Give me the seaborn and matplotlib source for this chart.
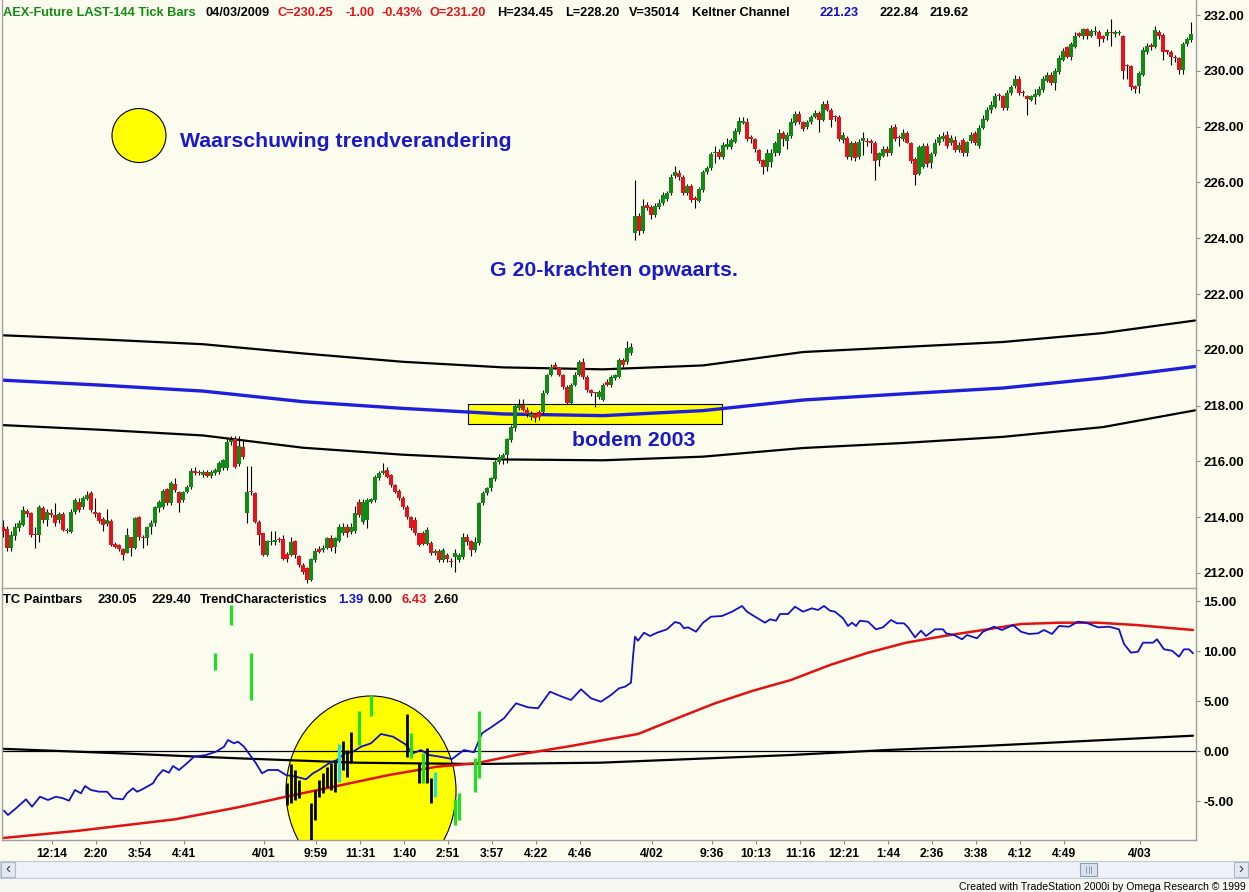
import matplotlib
matplotlib.use("Agg")
import matplotlib.pyplot as plt
import seaborn as sns
import numpy as np
import pandas as pd
from matplotlib.patches import Ellipse, Rectangle

# ------------------------------------------------------------------ data
bar_open = [
    213.66, 213.56, 212.88, 213.33, 213.60, 213.72, 214.24, 214.14, 213.38, 213.36,
    214.32, 213.90, 214.16, 214.08, 213.90, 214.12, 213.52, 213.48, 214.18, 214.56,
    214.38, 214.65, 214.88, 214.15, 214.16, 213.92, 213.75, 213.86, 213.03, 212.99,
    212.85, 212.73, 213.28, 212.91, 214.02, 213.30, 213.24, 213.64, 213.78, 214.32,
    214.38, 215.01, 214.50, 215.18, 214.90, 214.62, 214.90, 215.07, 215.67, 215.60,
    215.51, 215.63, 215.49, 215.57, 215.63, 215.75, 215.75, 216.68, 216.80, 215.90,
    216.53, 214.14, 214.92, 214.88, 213.84, 213.42, 212.65, 213.10, 213.10, 213.19,
    213.22, 212.67, 212.65, 213.16, 212.61, 212.29, 212.17, 211.75, 212.47, 212.87,
    212.82, 212.91, 213.24, 212.94, 213.15, 213.42, 213.66, 213.48, 213.52, 214.56,
    213.82, 213.90, 214.56, 214.62, 215.40, 215.60, 215.69, 215.51, 215.15, 214.95,
    214.68, 214.38, 214.02, 213.90, 213.42, 213.42, 213.05, 213.08, 212.71, 212.80,
    212.47, 212.65, 212.40, 212.59, 212.47, 212.59, 213.28, 213.14, 212.82, 213.08,
    214.50, 214.86, 215.03, 215.36, 215.99, 216.07, 216.23, 216.77, 217.18, 217.90,
    218.02, 217.86, 217.60, 217.69, 217.76, 217.78, 218.46, 219.10, 219.44, 219.34,
    219.10, 218.68, 218.08, 218.74, 219.10, 219.58, 219.04, 218.56, 218.47, 218.32,
    218.20, 218.84, 218.74, 218.98, 219.04, 219.63, 219.57, 219.87,
    224.17, 224.79, 224.26, 225.19, 225.13, 224.83, 225.13, 225.27, 225.42, 225.63,
    226.24, 226.35, 226.20, 225.63, 225.88, 225.45, 225.34, 225.72, 226.36, 226.50,
    227.04, 227.10, 226.92, 227.28, 227.28, 227.46, 227.82, 228.14, 228.17, 227.62,
    227.54, 227.16, 226.80, 226.56, 226.74, 227.04, 227.04, 227.78, 227.50, 227.66,
    228.12, 228.46, 228.16, 228.00, 228.16, 228.34, 228.48, 228.24, 228.80, 228.60,
    228.35, 228.36, 227.52, 227.58, 226.90, 227.43, 226.92, 227.47, 227.47, 227.44,
    227.43, 226.80, 226.95, 227.21, 227.04, 228.00, 227.59, 227.54, 227.78, 227.40,
    226.83, 226.30, 226.56, 227.31, 226.68, 227.02, 227.43, 227.54, 227.70, 227.43,
    227.52, 227.16, 227.52, 227.07, 227.49, 227.76, 227.30, 227.94, 228.24, 228.60,
    228.70, 229.11, 229.10, 228.65, 229.20, 229.46, 229.70, 229.21, 229.10, 228.96,
    229.05, 229.14, 229.32, 229.65, 229.84, 229.56, 229.95, 230.40, 230.85, 230.49,
    230.85, 231.35, 231.23, 231.50, 231.23, 231.38, 231.38, 231.26, 231.23, 231.35,
    231.33, 231.35, 231.23, 230.19, 230.18, 229.46, 229.44, 229.86, 230.69, 230.88,
    230.85, 231.40, 231.28, 230.70, 230.68, 230.51, 230.45, 230.04, 230.95, 231.11,
]
bar_high = [
    213.90, 213.70, 213.50, 213.80, 213.90, 214.40, 214.30, 214.20, 213.66, 214.45,
    214.40, 214.30, 214.30, 214.50, 214.20, 214.20, 213.60, 214.30, 214.70, 214.70,
    214.75, 214.95, 214.95, 214.68, 214.20, 214.00, 214.30, 213.95, 213.10, 213.05,
    212.90, 213.60, 213.30, 214.00, 214.05, 213.35, 213.70, 213.90, 214.40, 214.60,
    215.00, 215.05, 215.30, 215.40, 214.95, 214.95, 215.15, 215.75, 215.80, 215.70,
    215.70, 215.70, 215.70, 215.75, 216.00, 216.10, 216.85, 216.90, 216.90, 216.90,
    216.75, 215.85, 215.85, 214.92, 213.90, 213.45, 213.20, 213.50, 213.50, 213.30,
    213.35, 212.75, 213.30, 213.20, 212.65, 212.35, 212.20, 212.55, 212.90, 212.95,
    213.00, 213.30, 213.35, 213.30, 213.75, 213.80, 213.75, 213.80, 214.40, 214.65,
    214.65, 214.70, 214.70, 215.50, 215.65, 215.93, 215.80, 215.55, 215.20, 215.00,
    214.75, 214.45, 214.05, 214.00, 213.45, 213.50, 213.65, 213.15, 212.85, 212.85,
    212.90, 212.70, 212.55, 212.85, 212.70, 213.45, 213.40, 213.20, 213.30, 214.55,
    214.95, 215.10, 215.45, 216.05, 216.25, 216.30, 216.85, 217.30, 218.05, 218.25,
    218.25, 217.95, 217.80, 217.75, 217.85, 218.55, 219.15, 219.50, 219.55, 219.40,
    219.15, 218.75, 218.80, 219.20, 219.65, 219.70, 219.10, 218.60, 218.50, 218.55,
    218.80, 218.95, 219.10, 219.15, 219.70, 219.70, 220.30, 220.25,
    226.10, 224.90, 225.40, 225.30, 225.20, 225.25, 225.40, 225.65, 225.70, 226.30,
    226.60, 226.45, 226.25, 225.95, 225.95, 225.50, 225.85, 226.45, 226.60, 227.10,
    227.30, 227.20, 227.45, 227.60, 227.60, 227.95, 228.35, 228.35, 228.30, 227.70,
    227.60, 227.20, 226.85, 227.20, 227.20, 227.50, 227.90, 227.85, 227.80, 228.30,
    228.55, 228.55, 228.20, 228.25, 228.40, 228.60, 228.55, 228.90, 228.95, 228.65,
    228.40, 228.40, 227.80, 227.65, 227.50, 227.50, 227.55, 227.80, 227.60, 227.55,
    227.50, 227.10, 227.30, 227.30, 228.05, 228.10, 227.70, 227.90, 227.85, 227.45,
    226.90, 227.35, 227.40, 227.40, 227.10, 227.55, 227.75, 227.80, 227.85, 227.70,
    227.65, 227.45, 227.60, 227.50, 227.80, 227.85, 228.05, 228.40, 228.70, 228.90,
    229.20, 229.20, 229.15, 229.30, 229.50, 229.85, 229.80, 229.30, 229.15, 229.15,
    229.35, 229.45, 229.80, 229.95, 229.95, 230.10, 230.55, 230.80, 230.90, 231.05,
    231.40, 231.40, 231.55, 231.55, 231.50, 231.60, 231.45, 231.30, 231.50, 231.86,
    231.45, 231.45, 231.30, 230.25, 230.20, 229.50, 230.00, 230.85, 231.00, 231.00,
    231.60, 231.45, 231.35, 230.75, 230.75, 230.55, 230.50, 231.05, 231.20, 231.75,
]
bar_low = [
    213.30, 212.80, 212.80, 213.20, 213.50, 213.70, 214.00, 213.30, 212.88, 213.10,
    213.80, 213.70, 214.00, 213.70, 213.80, 213.50, 213.45, 213.45, 214.10, 214.20,
    214.30, 214.60, 214.20, 214.02, 213.80, 213.50, 213.70, 212.95, 212.90, 212.80,
    212.45, 212.70, 212.60, 212.85, 213.20, 212.90, 213.00, 213.40, 213.70, 214.20,
    214.30, 214.45, 214.45, 214.90, 214.20, 214.55, 214.85, 215.00, 215.50, 215.50,
    215.45, 215.45, 215.40, 215.50, 215.55, 215.70, 215.70, 216.60, 215.75, 215.85,
    216.10, 213.78, 214.80, 213.80, 213.00, 212.60, 212.60, 213.00, 213.00, 213.10,
    212.45, 212.40, 212.60, 212.55, 212.20, 211.95, 211.65, 211.70, 212.40, 212.70,
    212.75, 212.85, 212.80, 212.70, 213.10, 213.35, 213.30, 213.40, 213.45, 214.00,
    213.75, 213.60, 214.50, 214.55, 215.35, 215.55, 215.40, 215.10, 214.85, 214.60,
    214.30, 213.95, 213.55, 213.35, 212.95, 213.00, 213.00, 212.65, 212.65, 212.40,
    212.40, 212.40, 212.20, 212.02, 212.40, 212.50, 213.00, 212.60, 212.75, 213.00,
    214.45, 214.80, 214.95, 215.30, 215.90, 215.90, 215.95, 216.70, 217.10, 217.85,
    217.80, 217.60, 217.50, 217.40, 217.50, 217.70, 218.40, 219.05, 219.30, 219.05,
    218.60, 218.05, 218.05, 218.70, 219.05, 218.95, 218.50, 218.35, 217.96, 218.25,
    218.15, 218.70, 218.65, 218.90, 219.00, 219.40, 219.50, 219.80,
    223.93, 224.10, 224.20, 225.00, 224.70, 224.75, 225.05, 225.20, 225.35, 225.55,
    226.15, 226.10, 225.55, 225.55, 225.30, 225.10, 225.30, 225.65, 226.30, 226.45,
    226.70, 226.85, 226.85, 227.20, 227.20, 227.40, 227.75, 228.10, 227.50, 227.40,
    227.10, 226.70, 226.30, 226.40, 226.55, 226.95, 227.00, 227.30, 227.20, 227.60,
    228.05, 228.10, 227.85, 227.90, 228.10, 228.30, 227.80, 228.20, 228.55, 228.00,
    228.20, 227.50, 227.40, 226.85, 226.80, 226.75, 226.85, 227.00, 227.30, 227.05,
    226.10, 226.60, 226.90, 226.95, 227.00, 227.50, 227.30, 227.50, 227.40, 226.70,
    225.90, 226.25, 226.50, 226.55, 226.50, 226.95, 227.35, 227.50, 227.25, 227.35,
    227.10, 227.10, 226.95, 226.95, 227.40, 227.35, 227.25, 227.90, 228.20, 228.50,
    228.65, 228.95, 228.60, 228.60, 229.15, 229.40, 229.15, 229.10, 228.40, 228.90,
    228.80, 229.10, 229.25, 229.60, 229.50, 229.30, 229.90, 230.35, 230.45, 230.40,
    230.80, 231.20, 231.15, 231.15, 231.20, 231.30, 230.90, 231.05, 231.10, 230.90,
    231.20, 231.30, 229.70, 229.70, 229.30, 229.20, 229.20, 229.80, 230.60, 230.75,
    230.80, 231.15, 230.40, 230.60, 230.20, 230.30, 229.90, 229.90, 230.90, 231.05,
]
bar_close = [
    213.52, 212.90, 213.36, 213.66, 213.80, 214.26, 214.12, 213.36, 213.36, 214.35,
    213.90, 214.20, 214.08, 213.78, 214.12, 213.54, 213.50, 214.20, 214.62, 214.26,
    214.68, 214.80, 214.26, 214.13, 213.86, 213.72, 213.90, 213.00, 212.94, 212.85,
    212.65, 213.36, 212.91, 213.96, 213.30, 213.24, 213.66, 213.80, 214.35, 214.56,
    214.95, 214.50, 215.24, 214.97, 214.50, 214.90, 215.07, 215.67, 215.57, 215.58,
    215.63, 215.49, 215.63, 215.69, 215.93, 216.05, 216.71, 216.77, 215.81, 216.55,
    216.17, 214.89, 214.90, 213.84, 213.36, 212.65, 213.14, 213.16, 213.18, 213.18,
    212.49, 212.49, 213.12, 212.63, 212.29, 212.02, 211.75, 212.49, 212.80, 212.76,
    212.91, 213.24, 212.88, 213.24, 213.66, 213.66, 213.42, 213.66, 214.16, 214.08,
    214.56, 214.62, 214.65, 215.43, 215.60, 215.67, 215.45, 215.15, 214.91, 214.68,
    214.38, 214.02, 213.60, 213.42, 213.00, 213.05, 213.54, 212.71, 212.80, 212.47,
    212.82, 212.49, 212.38, 212.73, 212.63, 213.30, 213.12, 212.82, 213.12, 214.50,
    214.88, 215.03, 215.39, 215.99, 216.17, 216.23, 216.80, 217.24, 217.99, 218.02,
    217.84, 217.69, 217.69, 217.54, 217.60, 218.46, 219.10, 219.40, 219.34, 219.10,
    218.68, 218.08, 218.74, 219.10, 219.58, 219.04, 218.56, 218.44, 218.46, 218.50,
    218.74, 218.74, 219.04, 219.10, 219.63, 219.45, 220.05, 220.11,
    224.79, 224.26, 225.15, 225.09, 224.83, 225.15, 225.27, 225.55, 225.63, 226.20,
    226.38, 226.18, 225.63, 225.87, 225.37, 225.37, 225.75, 226.38, 226.53, 227.02,
    227.09, 226.92, 227.34, 227.37, 227.52, 227.84, 228.20, 228.20, 227.57, 227.54,
    227.19, 226.78, 226.54, 227.04, 227.07, 227.40, 227.76, 227.54, 227.69, 228.18,
    228.46, 228.18, 227.93, 228.18, 228.34, 228.50, 228.24, 228.80, 228.60, 228.24,
    228.33, 227.56, 227.69, 226.92, 227.43, 226.86, 227.45, 227.59, 227.46, 227.43,
    226.78, 227.04, 227.19, 227.07, 227.94, 227.54, 227.58, 227.76, 227.42, 226.78,
    226.25, 227.26, 227.31, 226.66, 227.02, 227.43, 227.62, 227.66, 227.31, 227.59,
    227.16, 227.34, 227.07, 227.44, 227.70, 227.42, 227.94, 228.29, 228.60, 228.78,
    229.10, 229.10, 228.66, 229.20, 229.41, 229.70, 229.22, 229.20, 228.98, 229.08,
    229.17, 229.34, 229.70, 229.84, 229.56, 230.01, 230.46, 230.72, 230.49, 230.95,
    231.26, 231.23, 231.50, 231.23, 231.41, 231.44, 231.14, 231.14, 231.40, 231.34,
    231.38, 231.39, 229.98, 230.17, 229.41, 229.34, 229.92, 230.73, 230.90, 230.87,
    231.47, 231.23, 230.69, 230.69, 230.49, 230.45, 230.04, 230.97, 231.14, 231.33,
]

# Keltner channel (bar index, value)
kc_idx = [0, 25, 50, 75, 100, 125, 150, 175, 200, 225, 250, 275, 298]
kc_mid = [218.91, 218.73, 218.52, 218.14, 217.90, 217.70, 217.64, 217.82, 218.20, 218.42, 218.63, 218.99, 219.40]
kc_upper = [220.52, 220.37, 220.20, 219.87, 219.57, 219.37, 219.30, 219.44, 219.92, 220.10, 220.28, 220.60, 221.05]
kc_lower = [217.30, 217.13, 216.93, 216.49, 216.24, 216.07, 216.04, 216.17, 216.48, 216.66, 216.88, 217.23, 217.83]

# TrendCharacteristics (blue)
tc_x = [0.25, 1.25, 3.25, 5.75, 7.25, 9.25, 11.25, 13.25, 15, 16.5, 18, 19.5, 20.5, 22, 24, 26, 27.5, 30, 31,
        32.5, 33.5, 34.5, 36, 37.5, 38.5, 40, 41.5, 42.5, 44, 46, 47.75, 50.75, 53.25, 55.25, 56.25, 57.75,
        58.75, 60.25, 61.75, 63.25, 64.75, 66.25, 68.75, 70.75, 73.25, 75.75, 77.5, 79, 81.5, 83.5, 85.5,
        87.5, 89.5, 92, 94.5, 97.5, 100.5, 102.5, 104.5, 106.5, 109.25, 112.25, 115.25, 117.75, 119.75,
        122.25, 125.25, 128.25, 131.25, 133.75, 136.75, 139.75, 142, 144.5, 147, 149.5, 152, 154, 155.5,
        157, 157.5, 158, 158.75, 160.25, 161.75, 163.5, 166, 168, 169.25, 170.25, 171.25, 173.25, 175, 177,
        179.75, 182.25, 184.75, 186, 188, 190.5, 191.75, 193.25, 194.25, 196.25, 198, 200, 202.25, 203.75,
        205.25, 206.75, 208, 210, 211.25, 212.25, 213.25, 214.25, 216.25, 218.25, 220, 222, 223.5, 225.25,
        226.25, 228, 229.5, 230.75, 233, 235, 235.75, 237.75, 239.75, 241, 243.5, 245, 247.75, 249.75,
        252.5, 254.5, 256.5, 258.75, 260.25, 262.25, 264, 266.5, 268.75, 270.75, 273.75, 276.5, 279,
        280.25, 282, 283.75, 285, 287.5, 288.5, 290.25, 292.25, 294, 295.25, 296.5, 297.5]
tc_v = [-5.97, -6.4, -5.73, -4.83, -5.57, -4.57, -4.9, -4.57, -4.73, -4.97, -3.9, -4.23, -3.5, -3.9, -4.07,
        -4.07, -4.73, -4.83, -4.23, -3.73, -4.07, -3.9, -3.57, -3.23, -2.57, -1.9, -2.17, -1.5, -1.9, -1.23,
        -0.57, -0.4, -0.07, 0.43, 1.1, 0.77, 0.93, 0.43, -0.4, -1.23, -2.23, -1.9, -1.9, -2.4, -2.57, -2.83,
        -2.23, -1.9, -1.23, -0.9, -0.23, -0.07, 0.43, 0.77, 1.7, 1.43, 0.7, -0.23, 0.1, -0.4, -0.57, -0.8,
        0.1, -0.13, 1.77, 2.43, 3.27, 4.77, 4.37, 4.27, 5.93, 5.43, 5.1, 6.17, 5.27, 4.93, 5.6, 6.27, 6.43,
        6.83, 9.43, 11.43, 11.03, 11.83, 11.5, 11.83, 12.17, 12.9, 12.77, 12.27, 12.37, 11.93, 12.83, 13.43,
        13.5, 13.93, 14.5, 13.93, 13.43, 12.83, 13.17, 13.03, 13.7, 13.7, 14.43, 13.93, 14.27, 14.1, 14.5,
        14.03, 13.93, 13.27, 12.5, 12.83, 12.5, 13.03, 12.93, 12.17, 12.37, 13.1, 12.77, 12.77, 12.37,
        11.37, 12.03, 11.5, 12.17, 12.17, 11.77, 11.6, 11.17, 11.6, 11.27, 11.93, 12.43, 12.1, 12.6, 11.93,
        11.7, 11.77, 12.1, 11.7, 12.5, 12.43, 12.93, 12.83, 12.37, 12.43, 12.17, 10.7, 9.83, 9.93, 10.83,
        10.83, 11.17, 10.17, 10.03, 9.43, 10.17, 10.17, 9.77]

# smooth red line
red_x = [-0.75, 19, 43, 58.75, 70.75, 83.5, 96.5, 108.5, 118.25, 128.25, 142, 149.25, 158.75, 168.5, 178,
         187.5, 197, 206.75, 216.25, 225.75, 235.25, 245, 254.5, 264, 273.75, 283.25, 297.5]
red_v = [-8.73, -7.97, -6.83, -5.63, -4.57, -3.5, -2.4, -1.57, -1.23, -0.4, 0.5, 1.03, 1.7, 3.27, 4.77,
         6.03, 7.1, 8.6, 9.83, 10.83, 11.5, 12.1, 12.7, 12.83, 12.83, 12.6, 12.1]

# slow black line
slow_x = [-0.75, 29, 58.75, 88.5, 118.25, 149.25, 197, 221, 245, 297.5]
slow_v = [0.23, -0.23, -0.73, -1.17, -1.3, -1.17, -0.4, 0.1, 0.5, 1.53]

# TC paintbars
green_pb_idx = [53, 57, 62, 89, 92, 102, 105, 113, 114, 118, 119]
green_pb_hi = [9.83, 14.6, 9.83, 4.03, 5.6, 1.77, -0.23, -4.83, -4.17, -0.73, 4.03]
green_pb_lo = [8.1, 12.6, 5.1, 0.6, 3.5, -0.73, -3.23, -7.4, -6.9, -4.07, -2.73]
cyan_pb_idx = [84, 108]
cyan_pb_hi = [0.7, -2.07]
cyan_pb_lo = [-3.07, -4.57]
black_pb_idx = [71, 72, 73, 74, 77, 78, 79, 80, 81, 82, 83, 85, 86, 87, 101, 104, 106, 107]
black_pb_hi = [-3.23, -1.3, -1.9, -2.9, -5.23, -3.9, -2.9, -2.17, -1.57, -1.23, -0.9, 1.03, 0.1, 1.93,
               3.7, -1.23, 0.27, -2.73]
black_pb_lo = [-5.4, -5.23, -4.9, -4.73, -8.9, -6.9, -4.57, -4.17, -3.57, -3.9, -4.07, -1.9, -2.57,
               -1.23, -0.57, -3.23, -3.17, -5.23]

# time axis
time_tick_bars = [8, 19, 30, 41, 61, 74, 85, 96, 107, 118, 129, 140, 158, 173, 184, 195, 206, 217, 228,
                  239, 250, 261, 280]
time_tick_labels = ["12:14", "2:20", "3:54", "4:41", "4/01", "9:59", "11:31", "1:40", "2:51", "3:57",
                    "4:22", "4:46", "4/02", "9:36", "10:13", "11:16", "12:21", "1:44", "2:36", "3:38",
                    "4:12", "4:49", "4/03"]
price_ticks = [212, 214, 216, 218, 220, 222, 224, 226, 228, 230, 232]
tc_ticks = [-5, 0, 5, 10, 15]

header_top_texts = ["AEX-Future LAST-144 Tick Bars", "04/03/2009", "C=230.25", "-1.00", "-0.43%",
                    "O=231.20", "H=234.45", "L=228.20", "V=35014", "Keltner Channel", "221.23",
                    "222.84", "219.62"]
header_bot_texts = ["TC Paintbars", "230.05", "229.40", "TrendCharacteristics", "1.39", "0.00",
                    "6.43", "2.60"]
annotations = ["Waarschuwing trendverandering", "G 20-krachten opwaarts.", "bodem 2003"]

# ------------------------------------------------------------------ style
sns.set_theme(style="white")
plt.rcParams['font.family'] = ['Liberation Sans', 'DejaVu Sans']

W, H = 1249, 892
BG = '#FCFCEE'
GREEN = '#138A13'
RED = '#E5141C'
KBLUE = '#1E1EDC'
TBLUE = '#1212C4'
AXC = '#A0A0A0'


def fx(x):
    return x / W


def fy(y):
    return 1 - y / H


fig = plt.figure(figsize=(W / 100, H / 100), dpi=100, facecolor=BG)
ax1 = fig.add_axes([fx(2), fy(587), fx(1196) - fx(2), fy(0) - fy(587)])
ax2 = fig.add_axes([fx(2), fy(840), fx(1196) - fx(2), fy(588) - fy(840)])

for ax in (ax1, ax2):
    ax.set_facecolor(BG)
    ax.set_xlim(-0.25, 298.25)
    for s in ax.spines.values():
        s.set_color(AXC)
        s.set_linewidth(1.0)
    ax.yaxis.tick_right()
    ax.tick_params(axis='y', direction='out', length=3, width=0.8, color='#8C8C8C',
                   pad=2.2, labelsize=9.5, labelcolor='black', right=True, left=False)
    ax.grid(False)
ax1.spines['top'].set_visible(False)
ax1.spines['bottom'].set_visible(False)
ax1.patch.set_visible(False)

ax1.set_ylim(211.498, 232.538)
ax2.set_ylim(-8.9, 16.3)
ax1.set_yticks(price_ticks)
ax1.set_yticklabels([f"{v:.2f}" for v in price_ticks])
ax2.set_yticks(tc_ticks)
ax2.set_yticklabels([f"{v:.2f}" for v in tc_ticks])
ax1.set_xticks([])

# ------------------------------------------------------------------ upper panel
o = np.array(bar_open)
h = np.array(bar_high)
l = np.array(bar_low)
c = np.array(bar_close)
idx = np.arange(len(c))
cols = np.where(c >= o, GREEN, RED)

ax1.add_patch(Rectangle((116.2, 217.33), 63.6, 0.717, facecolor='#FFFF00', edgecolor='black',
                        linewidth=0.8, zorder=1.5))
ax1.add_patch(Ellipse((34, 227.68), 13.5, 1.935, facecolor='#FFFF00', edgecolor='black',
                      linewidth=0.8, zorder=1.5))

kc = pd.DataFrame({'bar': kc_idx, 'mid': kc_mid, 'up': kc_upper, 'lo': kc_lower})
sns.lineplot(data=kc, x='bar', y='up', ax=ax1, color='black', linewidth=1.6, estimator=None,
             sort=False, zorder=2)
sns.lineplot(data=kc, x='bar', y='lo', ax=ax1, color='black', linewidth=1.6, estimator=None,
             sort=False, zorder=2)
sns.lineplot(data=kc, x='bar', y='mid', ax=ax1, color=KBLUE, linewidth=2.4, estimator=None,
             sort=False, zorder=2)

ax1.vlines(idx, l, h, color='black', linewidth=0.8, zorder=3)
body_b = np.minimum(o, c)
body_h = np.maximum(np.abs(c - o), 0.04)
ax1.bar(idx, body_h, bottom=body_b, width=0.8, color=cols, linewidth=0, zorder=4)

ax1.set_xlabel('')
ax1.set_ylabel('')

# ------------------------------------------------------------------ lower panel
ax2.add_patch(Ellipse((92, -4.0), 42.5, 19.0, facecolor='#FFFF00', edgecolor='black',
                      linewidth=0.8, zorder=1))
ax2.axhline(0, color='black', linewidth=0.9, zorder=2)
sns.lineplot(x=slow_x, y=slow_v, ax=ax2, color='black', linewidth=1.6, estimator=None,
             sort=False, zorder=2.2)
sns.lineplot(x=red_x, y=red_v, ax=ax2, color='#E01212', linewidth=1.8, estimator=None,
             sort=False, zorder=2.4)
sns.lineplot(x=tc_x, y=tc_v, ax=ax2, color=TBLUE, linewidth=1.3, estimator=None,
             sort=False, zorder=2.6)
ax2.vlines(green_pb_idx, green_pb_lo, green_pb_hi, color='#22DD22', linewidth=2.3, zorder=3)
ax2.vlines(cyan_pb_idx, cyan_pb_lo, cyan_pb_hi, color='#22DDDD', linewidth=2.3, zorder=3)
ax2.vlines(black_pb_idx, black_pb_lo, black_pb_hi, color='black', linewidth=2.0, zorder=3)
ax2.set_xlabel('')
ax2.set_ylabel('')

ax2.set_xticks([b + 4.25 for b in time_tick_bars])
ax2.set_xticklabels(time_tick_labels)
ax2.tick_params(axis='x', direction='out', length=3, width=0.8, color='#8C8C8C', pad=2.5,
                labelsize=8.7, labelcolor='black', bottom=True)

for ax in (ax1, ax2):
    for t in ax.get_yticklabels() + ax.get_xticklabels():
        t.set_fontweight('bold')

# ------------------------------------------------------------------ texts
top_x = [3, 206, 278, 346, 382, 429, 497, 565, 629, 692, 820, 880, 930]
top_c = [GREEN, 'black', RED, RED, RED, RED, 'black', 'black', 'black', 'black', TBLUE,
         'black', 'black']
for s, x, col in zip(header_top_texts, top_x, top_c):
    fig.text(fx(x), fy(16), s, color=col, fontsize=9.2, fontweight='bold', ha='left',
             va='baseline')

bot_x = [3, 98, 152, 200, 338, 368, 402, 433]
bot_c = ['black', 'black', 'black', 'black', TBLUE, 'black', RED, 'black']
for s, x, col in zip(header_bot_texts, bot_x, bot_c):
    fig.text(fx(x), fy(603), s, color=col, fontsize=9.3, fontweight='bold', ha='left',
             va='baseline')

ann_pos = [(180, 147), (490, 276), (572, 446)]
for s, (x, y) in zip(annotations, ann_pos):
    fig.text(fx(x), fy(y), s, color='#1A1AC8', fontsize=15.3, fontweight='bold', ha='left',
             va='baseline')

# ------------------------------------------------------------------ scrollbar & footer
def frect(x0, y0, x1, y1, **kw):
    fig.add_artist(Rectangle((fx(x0), fy(y1)), fx(x1) - fx(x0), fy(y0) - fy(y1),
                             transform=fig.transFigure, **kw))


frect(0, 878, 1249, 892, facecolor='#F7F7F2', edgecolor='none')
frect(0, 861, 1249, 878, facecolor='#EEF2F7', edgecolor='#C2CAD6', linewidth=0.8)
frect(1, 862, 15, 877, facecolor='#E3E9F1', edgecolor='#AEB8C6', linewidth=0.8)
frect(1234, 862, 1248, 877, facecolor='#E3E9F1', edgecolor='#AEB8C6', linewidth=0.8)
frect(1080, 863, 1097, 876, facecolor='#D9E2EE', edgecolor='#8C9CB4', linewidth=0.8)
for gx in (1086, 1088.5, 1091):
    fig.add_artist(plt.Line2D([fx(gx), fx(gx)], [fy(873), fy(866)], transform=fig.transFigure,
                              color='#8090A8', linewidth=0.6))
fig.text(fx(8), fy(869.5), '‹', fontsize=11, color='#404040', ha='center', va='center')
fig.text(fx(1241), fy(869.5), '›', fontsize=11, color='#404040', ha='center', va='center')
fig.text(fx(1246), fy(890), 'Created with TradeStation 2000i by Omega Research © 1999',
         fontsize=7.6, color='black', ha='right', va='baseline',
         family=['Liberation Sans Narrow', 'Liberation Sans', 'DejaVu Sans'])

fig.savefig('out.png', dpi=100, facecolor=BG)
